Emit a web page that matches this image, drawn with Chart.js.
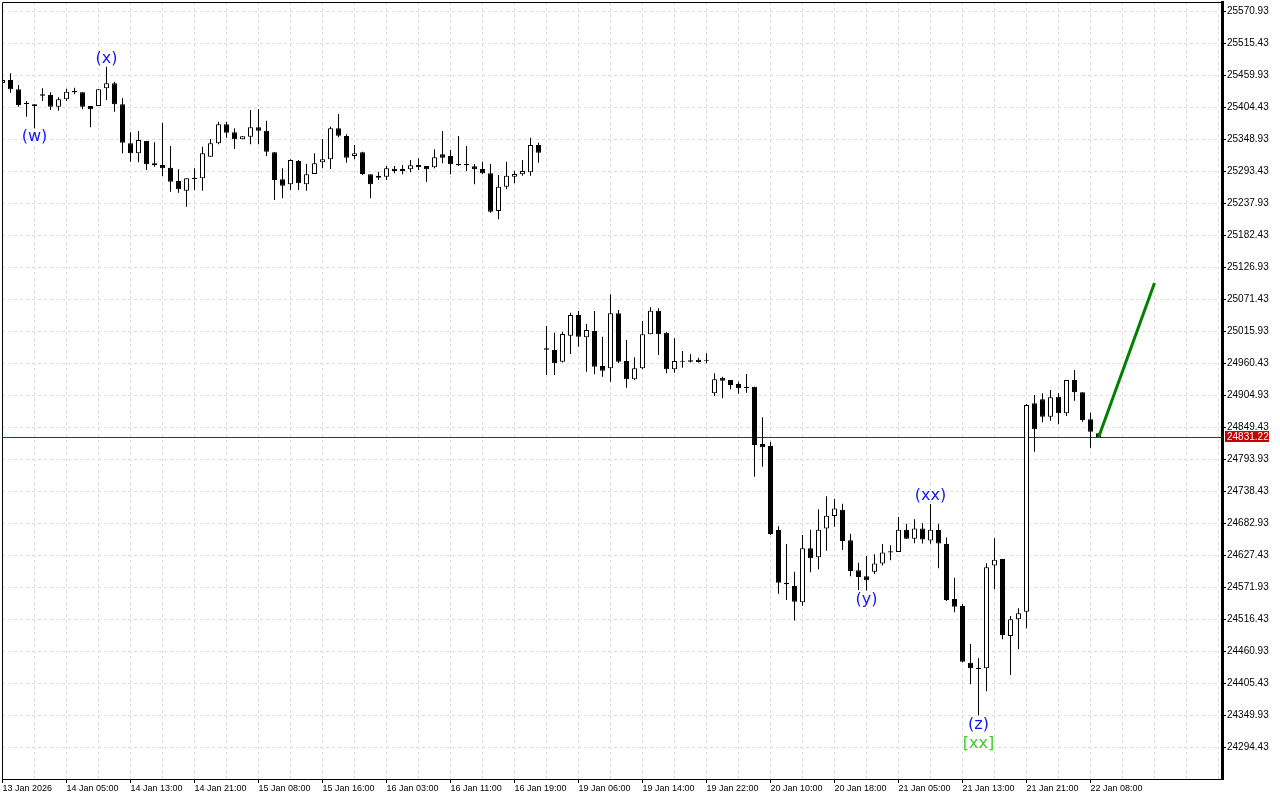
<!DOCTYPE html>
<html>
<head>
<meta charset="utf-8">
<title>H1 chart</title>
<script src="https://cdn.jsdelivr.net/npm/chart.js@4.4.1/dist/chart.umd.min.js"></script>
<style>
  html, body { margin: 0; padding: 0; background: #fff; }
  #chart { display: block; }
</style>
</head>
<body>
<canvas id="chart" width="1280" height="800"></canvas>
<script>
// OHLC per hourly bar
const opens = [
  25446.1, 25451.3, 25435.1, 25411.9, 25409.1, 25424.0, 25425.2, 25405.0, 25417.8, 25432.2,
  25429.9, 25406.2, 25406.2, 25436.9, 25445.5, 25409.1, 25341.5, 25324.1, 25345.5, 25306.8,
  25303.8, 25299.2, 25276.1, 25259.3, 25279.6, 25280.8, 25318.2, 25341.5, 25374.4, 25360.6,
  25348.4, 25352.9, 25369.2, 25363.3, 25325.9, 25279.0, 25270.4, 25310.8, 25270.4, 25288.2,
  25308.5, 25313.7, 25367.5, 25354.1, 25319.5, 25325.9, 25287.7, 25284.8, 25283.5, 25297.4,
  25296.9, 25296.4, 25303.8, 25302.1, 25299.9, 25322.4, 25319.5, 25305.6, 25305.6, 25301.6,
  25296.9, 25289.4, 25224.1, 25266.2, 25283.5, 25287.7, 25291.2, 25338.5,
  24985.9, 24983.0, 24962.7, 25007.8, 25043.7, 25005.0, 25015.9, 24955.2, 24951.2, 25046.6,
  24963.9, 24932.2, 24951.2, 25010.2, 25051.1, 25013.0, 24949.5, 24962.7, 24962.7, 24966.1,
  24963.4, 24907.9, 24935.0, 24931.0, 24924.0, 24919.3, 24919.3, 24819.9, 24816.5, 24670.8,
  24579.3, 24573.6, 24545.4, 24639.0, 24623.4, 24673.2, 24695.0, 24706.1, 24652.9, 24600.8,
  24590.5, 24598.2, 24612.6, 24631.7, 24632.7, 24671.4, 24655.8, 24673.2, 24652.4, 24670.8,
  24646.3, 24551.1, 24539.0, 24440.7, 24431.9, 24431.0, 24609.2, 24620.5, 24486.9, 24515.9,
  24529.1, 24890.5, 24897.5, 24867.3, 24902.0, 24873.2, 24931.0, 24909.6, 24862.8, 24838.5
];
const highs = [
  25456.5, 25462.9, 25442.6, 25414.8, 25409.1, 25436.9, 25429.9, 25421.3, 25436.2, 25437.9,
  25430.4, 25406.2, 25435.1, 25474.3, 25448.3, 25419.5, 25360.6, 25362.8, 25345.5, 25343.2,
  25377.2, 25336.8, 25296.4, 25280.8, 25298.1, 25335.6, 25348.9, 25378.9, 25378.9, 25367.5,
  25353.6, 25399.2, 25401.0, 25380.7, 25326.4, 25298.1, 25313.7, 25312.5, 25305.6, 25324.1,
  25348.9, 25370.3, 25392.3, 25357.1, 25338.5, 25326.9, 25287.7, 25292.2, 25302.1, 25302.1,
  25303.8, 25312.5, 25315.5, 25302.1, 25331.1, 25362.8, 25329.9, 25354.1, 25336.8, 25305.6,
  25309.6, 25305.6, 25286.5, 25309.6, 25294.0, 25312.5, 25351.2, 25342.5,
  25024.6, 25013.0, 25014.7, 25047.7, 25050.6, 25028.1, 25050.6, 25006.0, 25079.6, 25052.4,
  25000.3, 24970.3, 25033.3, 25057.0, 25055.3, 25014.7, 25003.3, 24981.2, 24975.5, 24969.6,
  24977.3, 24942.6, 24936.7, 24931.0, 24928.0, 24941.4, 24919.3, 24866.2, 24823.9, 24677.2,
  24646.3, 24598.2, 24662.1, 24671.4, 24706.9, 24729.2, 24725.2, 24716.5, 24664.5, 24614.1,
  24625.7, 24628.6, 24646.3, 24644.5, 24693.2, 24681.8, 24689.3, 24682.4, 24715.8, 24681.8,
  24657.9, 24587.8, 24542.5, 24473.1, 24448.5, 24613.0, 24656.4, 24620.5, 24521.6, 24535.0,
  24889.3, 24904.9, 24907.9, 24913.6, 24907.9, 24931.0, 24948.3, 24909.6, 24874.2, 24838.5
];
const lows = [
  25442.6, 25429.2, 25405.0, 25387.6, 25367.5, 25414.8, 25399.2, 25398.0, 25414.8, 25426.5,
  25400.4, 25369.2, 25406.2, 25416.6, 25396.3, 25324.1, 25309.6, 25308.5, 25295.2, 25300.9,
  25284.8, 25257.5, 25255.8, 25231.5, 25260.5, 25259.3, 25318.2, 25339.7, 25351.2, 25331.6,
  25348.4, 25339.7, 25339.7, 25319.5, 25243.1, 25246.1, 25260.5, 25260.5, 25259.3, 25288.2,
  25298.1, 25296.9, 25351.9, 25307.8, 25313.7, 25286.5, 25246.1, 25277.8, 25277.8, 25289.4,
  25287.7, 25291.2, 25295.2, 25274.9, 25298.1, 25306.8, 25287.7, 25302.1, 25293.4, 25270.4,
  25287.7, 25221.1, 25209.7, 25261.7, 25272.1, 25285.3, 25285.3, 25307.8,
  24939.6, 24939.6, 24961.5, 24976.0, 24988.7, 24945.3, 24940.8, 24936.7, 24928.0, 24959.9,
  24917.6, 24931.0, 24949.5, 25010.2, 24974.3, 24942.6, 24943.6, 24952.3, 24961.5, 24961.5,
  24959.9, 24903.2, 24899.2, 24914.8, 24907.1, 24908.9, 24763.2, 24780.5, 24662.1, 24560.2,
  24549.4, 24513.8, 24539.5, 24597.3, 24602.5, 24634.8, 24676.5, 24636.0, 24590.5, 24566.9,
  24565.7, 24594.5, 24609.2, 24618.2, 24632.7, 24655.8, 24648.0, 24647.5, 24646.8, 24604.3,
  24547.6, 24528.1, 24441.4, 24403.4, 24348.9, 24391.3, 24568.0, 24481.2, 24419.3, 24463.9,
  24500.3, 24806.6, 24857.6, 24860.4, 24854.1, 24868.5, 24895.1, 24858.6, 24813.5, 24831.2
];
const closes = [
  25451.3, 25435.1, 25407.9, 25409.6, 25406.2, 25426.5, 25405.0, 25417.8, 25431.0, 25429.9,
  25405.0, 25400.4, 25435.1, 25445.5, 25409.1, 25342.5, 25324.1, 25347.2, 25305.1, 25303.3,
  25298.1, 25274.9, 25261.7, 25280.8, 25281.8, 25324.1, 25341.5, 25374.4, 25359.9, 25348.4,
  25353.6, 25369.2, 25363.3, 25326.9, 25277.8, 25267.9, 25312.5, 25272.1, 25287.7, 25306.8,
  25313.7, 25367.5, 25354.7, 25316.5, 25324.1, 25288.2, 25270.4, 25281.8, 25298.1, 25293.4,
  25293.4, 25303.3, 25299.9, 25296.4, 25317.2, 25316.5, 25305.1, 25303.3, 25303.3, 25296.4,
  25289.4, 25222.8, 25266.2, 25285.3, 25288.2, 25293.4, 25338.5, 25325.2,
  24983.5, 24959.9, 25010.7, 25043.7, 25006.0, 25017.7, 24954.0, 24947.1, 25046.6, 24962.7,
  24932.2, 24951.2, 25010.2, 25051.1, 25010.2, 24949.5, 24963.9, 24964.4, 24965.1, 24962.2,
  24965.1, 24932.2, 24929.7, 24922.3, 24916.6, 24917.1, 24818.2, 24814.2, 24663.8, 24579.3,
  24576.6, 24546.4, 24639.0, 24621.7, 24671.4, 24695.7, 24707.9, 24651.7, 24599.6, 24589.2,
  24583.5, 24612.6, 24631.7, 24633.9, 24671.4, 24655.8, 24673.2, 24654.1, 24671.4, 24647.5,
  24549.4, 24537.8, 24442.4, 24431.0, 24429.6, 24606.2, 24619.1, 24488.7, 24515.9, 24526.3,
  24887.6, 24845.5, 24867.3, 24900.9, 24873.2, 24931.0, 24909.6, 24861.6, 24841.3, 24831.22
];

// time labels, one every 8 bars
const tickLabels = [
  '13 Jan 2026', '14 Jan 05:00', '14 Jan 13:00', '14 Jan 21:00', '15 Jan 08:00', '15 Jan 16:00',
  '16 Jan 03:00', '16 Jan 11:00', '16 Jan 19:00', '19 Jan 06:00', '19 Jan 14:00', '19 Jan 22:00',
  '20 Jan 10:00', '20 Jan 18:00', '21 Jan 05:00', '21 Jan 13:00', '21 Jan 21:00', '22 Jan 08:00'
];
const priceTicks = [
  24294.43, 24349.93, 24405.43, 24460.93, 24516.43, 24571.93, 24627.43, 24682.93,
  24738.43, 24793.93, 24849.43, 24904.93, 24960.43, 25015.93, 25071.43, 25126.93,
  25182.43, 25237.93, 25293.43, 25348.93, 25404.43, 25459.93, 25515.43, 25570.93
];
const lastPrice = 24831.22;

// projected move (green line)
const projBars = [137, 144];
const projPrices = [24831.22, 25099.0];

// wave marks
const waveBars = [4, 13, 108, 116, 122, 122];
const waveTexts = ['(w)', '(x)', '(y)', '(xx)', '(z)', '[xx]'];
const waveAbove = [false, true, false, true, false, false];
const waveRow = [0, 0, 0, 0, 0, 1];
const waveColors = ['#1414f5', '#1414f5', '#1414f5', '#1414f5', '#1414f5', '#3ccc2c'];

const bodies = opens.map((o, i) => ({ x: i, y: [Math.min(o, closes[i]), Math.max(o, closes[i])] }));
const wicks = opens.map((o, i) => ({ x: i, y: [lows[i], highs[i]] }));
const bodyFill = opens.map((o, i) => closes[i] >= o ? '#ffffff' : '#000000');
const projection = projBars.map((b, i) => ({ x: b, y: projPrices[i] }));

const gridStep = [];
for (let v = 0; v <= 152; v += 4) gridStep.push(v);

const hasLabel = (v) => v % 8 === 0 && v / 8 < tickLabels.length;

const overlay = {
  id: 'overlay',
  beforeDatasetsDraw(chart) {
    const { ctx, chartArea: a, scales: { y } } = chart;
    const py = Math.round(y.getPixelForValue(lastPrice)) + 0.5;
    ctx.save();
    ctx.strokeStyle = '#b00000';
    ctx.lineWidth = 1;
    ctx.beginPath();
    ctx.moveTo(a.left, py);
    ctx.lineTo(a.right, py);
    ctx.stroke();
    ctx.restore();
  },
  afterDraw(chart) {
    const { ctx, chartArea: a, scales: { x, y } } = chart;
    ctx.save();
    // left / top frame
    ctx.strokeStyle = '#000';
    ctx.lineWidth = 1;
    ctx.beginPath();
    ctx.moveTo(a.left + 0.5, a.bottom);
    ctx.lineTo(a.left + 0.5, a.top + 0.5);
    ctx.lineTo(a.right, a.top + 0.5);
    ctx.stroke();

    // last price tag
    const ty = y.getPixelForValue(lastPrice);
    ctx.fillStyle = '#c80000';
    ctx.fillRect(a.right + 3, Math.round(ty) - 6, 44, 11);
    ctx.fillStyle = '#ffffff';
    ctx.font = '10px "Liberation Sans", Arial, sans-serif';
    ctx.textAlign = 'left';
    ctx.textBaseline = 'middle';
    ctx.fillText(lastPrice.toFixed(2), a.right + 5, ty);

    // wave labels
    ctx.font = '16px "DejaVu Sans", sans-serif';
    ctx.textAlign = 'center';
    ctx.textBaseline = 'middle';
    waveBars.forEach((b, k) => {
      const px = x.getPixelForValue(b);
      const anchor = waveAbove[k] ? y.getPixelForValue(highs[b]) : y.getPixelForValue(lows[b]);
      const off = waveAbove[k] ? -8 : 9 + waveRow[k] * 19;
      ctx.fillStyle = waveColors[k];
      ctx.fillText(waveTexts[k], px, anchor + off);
    });
    ctx.restore();
  }
};

Chart.defaults.font.family = '"Liberation Sans", Arial, sans-serif';
Chart.defaults.font.size = 10;
Chart.defaults.color = '#000';

new Chart(document.getElementById('chart'), {
  type: 'bar',
  data: {
    datasets: [
      {
        type: 'line',
        data: projection,
        borderColor: '#008000',
        borderWidth: 3,
        pointRadius: 0,
        fill: false,
        tension: 0,
        order: 1,
      },
      {
        data: bodies,
        backgroundColor: bodyFill,
        borderColor: '#000',
        borderWidth: 1,
        borderSkipped: false,
        barThickness: 5,
        minBarLength: 1,
        grouped: false,
        inflateAmount: 0,
        order: 2,
      },
      {
        data: wicks,
        backgroundColor: '#000',
        borderWidth: 0,
        barThickness: 1,
        grouped: false,
        inflateAmount: 0,
        order: 3,
      },
    ],
  },
  options: {
    responsive: false,
    animation: false,
    events: [],
    layout: { padding: { left: 2, top: 2, right: 0, bottom: 0 } },
    plugins: {
      legend: { display: false },
      tooltip: { enabled: false },
    },
    scales: {
      x: {
        type: 'linear',
        position: 'bottom',
        min: -0.0625,
        max: 152.4375,
        offset: false,
        afterBuildTicks(scale) {
          scale.ticks = gridStep.map(v => ({ value: v }));
        },
        afterFit(scale) {
          scale.height = 21;
          scale.paddingLeft = 0;
          scale.paddingRight = 0;
        },
        ticks: {
          autoSkip: false,
          maxRotation: 0,
          minRotation: 0,
          align: 'start',
          padding: 0,
          font: { size: 9 },
          callback: (v) => (hasLabel(v) ? tickLabels[v / 8] : ''),
        },
        grid: {
          offset: false,
          color: (c) => (c.tick && c.tick.value > 0 ? '#dedede' : 'rgba(0,0,0,0)'),
          tickColor: (c) => (c.tick && hasLabel(c.tick.value) ? '#000' : 'rgba(0,0,0,0)'),
          tickLength: 4,
          tickBorderDash: [],
        },
        border: { color: '#000', width: 1, dash: [3, 3] },
      },
      y: {
        type: 'linear',
        position: 'right',
        min: 24238.93,
        max: 25586.54,
        afterBuildTicks(scale) {
          scale.ticks = priceTicks.map(v => ({ value: v }));
        },
        afterFit(scale) {
          scale.width = 58;
          scale.paddingTop = 0;
          scale.paddingBottom = 0;
        },
        ticks: {
          padding: 1,
          callback: (v) => v.toFixed(2),
        },
        grid: {
          color: '#dedede',
          tickColor: '#000',
          tickLength: 4,
          tickBorderDash: [],
        },
        border: { color: '#000', width: 3, dash: [3, 3] },
      },
    },
  },
  plugins: [overlay],
});
</script>
</body>
</html>
